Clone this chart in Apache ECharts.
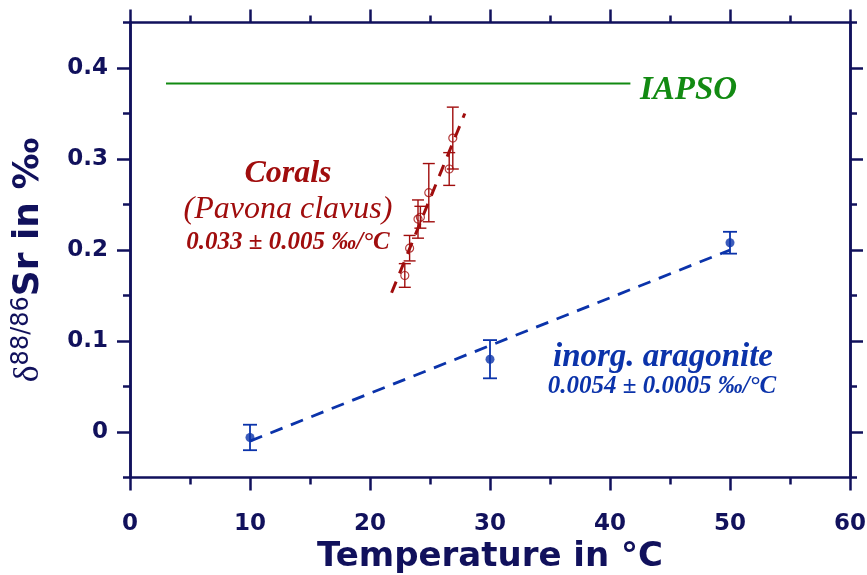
<!DOCTYPE html>
<html>
<head>
<meta charset="utf-8">
<script src="https://cdn.jsdelivr.net/npm/echarts@6/dist/echarts.min.js"></script>
<style>
  html, body { margin: 0; padding: 0; background: #fff; }
  #chart { width: 867px; height: 575px; }
</style>
</head>
<body>
<div id="chart"></div>
<script>
  // axis ticks
  var xTicks = [0, 10, 20, 30, 40, 50, 60]
  var yTicks = [0, 0.1, 0.2, 0.3, 0.4]
  var yMinorTicks = [-0.05, 0.05, 0.15, 0.25, 0.35, 0.45]

  // inorganic aragonite
  var inorgTemp = [10, 30, 50]
  var inorgSr = [-0.006, 0.080, 0.208]
  var inorgErr = [0.014, 0.021, 0.012]
  var inorgFitTemp = [10, 50]
  var inorgFitSr = [-0.010, 0.200]

  // corals (Pavona clavus)
  var coralTemp = [22.9, 23.3, 24.0, 24.2, 24.9, 26.6, 26.9]
  var coralSr = [0.172, 0.202, 0.234, 0.236, 0.263, 0.289, 0.323]
  var coralErr = [0.013, 0.014, 0.021, 0.012, 0.032, 0.018, 0.034]
  var coralFitTemp = [21.8, 27.9]
  var coralFitSr = [0.153, 0.350]

  // IAPSO seawater
  var iapsoTemp = [3, 41.7]
  var iapsoSr = [0.383, 0.383]

  var navy = '#11115c'
  var red = '#a00d0d'
  var blue = '#0b33aa'
  var green = '#128a12'

  function zip(a, b, c) {
    return a.map(function (v, i) { return c ? [v, b[i], c[i]] : [v, b[i]] })
  }

  function errBars(capHalf, width, color) {
    return function (params, api) {
      var x = api.value(0), y = api.value(1), e = api.value(2)
      var top = api.coord([x, y + e])
      var bot = api.coord([x, y - e])
      var st = { stroke: color, lineWidth: width }
      return {
        type: 'group',
        children: [
          { type: 'line', shape: { x1: top[0], y1: top[1], x2: bot[0], y2: bot[1] }, style: st },
          { type: 'line', shape: { x1: top[0] - capHalf, y1: top[1], x2: top[0] + capHalf, y2: top[1] }, style: st },
          { type: 'line', shape: { x1: bot[0] - capHalf, y1: bot[1], x2: bot[0] + capHalf, y2: bot[1] }, style: st }
        ]
      }
    }
  }

  var lineStyle = { color: navy, width: 2.5 }
  var labelFont = { color: navy, fontFamily: 'DejaVu Sans', fontWeight: 'bold', fontSize: 23 }

  function xAxis(pos, withLabel) {
    return {
      type: 'value', position: pos, min: xTicks[0], max: xTicks[xTicks.length - 1], interval: 10,
      axisLine: { show: true, onZero: false, lineStyle: lineStyle },
      axisTick: { show: true, inside: false, length: 13, lineStyle: lineStyle },
      minorTick: { show: true, splitNumber: 2, length: 7, lineStyle: lineStyle },
      axisLabel: Object.assign({ show: withLabel, margin: 35 }, labelFont),
      splitLine: { show: false },
      minorSplitLine: { show: false }
    }
  }

  function yAxis(pos, ticks, len, withLabel) {
    return {
      type: 'value', position: pos, min: -0.05, max: 0.45,
      axisLine: { show: true, onZero: false, lineStyle: lineStyle },
      axisTick: { show: true, inside: false, length: len, customValues: ticks, lineStyle: lineStyle },
      axisLabel: Object.assign({ show: withLabel, margin: 22, customValues: yTicks }, labelFont),
      splitLine: { show: false }
    }
  }

  var chart = echarts.init(document.getElementById('chart'))

  var yMain = yAxis('left', yTicks, 13, true)
  yMain.name = '{d|δ}{s|88/86}{b|Sr in ‰}'
  yMain.nameLocation = 'middle'
  yMain.nameRotate = 90
  yMain.nameGap = 82
  yMain.nameTextStyle = {
    color: navy,
    padding: [0, 20, 0, 0],
    rich: {
      d: { fontFamily: 'Liberation Serif', fontSize: 36, color: navy },
      s: { fontFamily: 'DejaVu Sans', fontSize: 24, color: navy, padding: [0, 0, 14, 0] },
      b: { fontFamily: 'DejaVu Sans', fontWeight: 'bold', fontSize: 36, color: navy }
    }
  }

  var xMain = xAxis('bottom', true)
  xMain.name = 'Temperature in °C'
  xMain.nameLocation = 'middle'
  xMain.nameGap = 79
  xMain.nameTextStyle = { color: navy, fontFamily: 'DejaVu Sans', fontWeight: 'bold', fontSize: 34, verticalAlign: 'middle' }

  chart.setOption({
    animation: false,
    backgroundColor: '#fff',
    grid: { left: 130, right: 17, top: 22.5, bottom: 97.5, outerBoundsMode: 'none', containLabel: false },
    xAxis: [xMain, xAxis('top', false)],
    yAxis: [
      yMain,
      yAxis('left', yMinorTicks, 7, false),
      yAxis('right', yTicks, 13, false),
      yAxis('right', yMinorTicks, 7, false)
    ],
    series: [
      {
        type: 'line', data: zip(iapsoTemp, iapsoSr), symbol: 'none',
        lineStyle: { color: green, width: 2 }
      },
      {
        type: 'line', data: zip(coralFitTemp, coralFitSr), symbol: 'none', z: 3,
        lineStyle: { color: red, width: 3, type: [12, 9] }
      },
      {
        type: 'custom', data: zip(coralTemp, coralSr, coralErr), encode: { x: 0, y: 1 },
        renderItem: errBars(6, 1.4, red)
      },
      {
        type: 'scatter', data: zip(coralTemp, coralSr), symbol: 'circle', symbolSize: 8,
        itemStyle: { color: 'rgba(0,0,0,0)', borderColor: red, borderWidth: 1.2 }
      },
      {
        type: 'line', data: zip(inorgFitTemp, inorgFitSr), symbol: 'none',
        lineStyle: { color: blue, width: 2.8, type: [13, 9] }
      },
      {
        type: 'custom', data: zip(inorgTemp, inorgSr, inorgErr), encode: { x: 0, y: 1 },
        renderItem: errBars(7, 1.8, blue)
      },
      {
        type: 'scatter', data: zip(inorgTemp, inorgSr), symbol: 'circle', symbolSize: 9,
        itemStyle: { color: blue }
      }
    ],
    graphic: [
      { type: 'text', x: 288, y: 174, style: { text: 'Corals', fill: red, font: 'italic bold 32px "Liberation Serif"', textAlign: 'center', textVerticalAlign: 'middle' } },
      { type: 'text', x: 288, y: 210, style: { text: '(Pavona clavus)', fill: red, font: 'italic 32px "Liberation Serif"', textAlign: 'center', textVerticalAlign: 'middle' } },
      { type: 'text', x: 288, y: 243, style: { text: '0.033 ± 0.005 ‰/°C', fill: red, font: 'italic bold 25px "Liberation Serif"', textAlign: 'center', textVerticalAlign: 'middle' } },
      { type: 'text', x: 640, y: 90, style: { text: 'IAPSO', fill: green, font: 'italic bold 33px "Liberation Serif"', textAlign: 'left', textVerticalAlign: 'middle' } },
      { type: 'text', x: 663, y: 357, style: { text: 'inorg. aragonite', fill: blue, font: 'italic bold 33px "Liberation Serif"', textAlign: 'center', textVerticalAlign: 'middle' } },
      { type: 'text', x: 662, y: 387, style: { text: '0.0054 ± 0.0005 ‰/°C', fill: blue, font: 'italic bold 25px "Liberation Serif"', textAlign: 'center', textVerticalAlign: 'middle' } }
    ]
  })
</script>
</body>
</html>
